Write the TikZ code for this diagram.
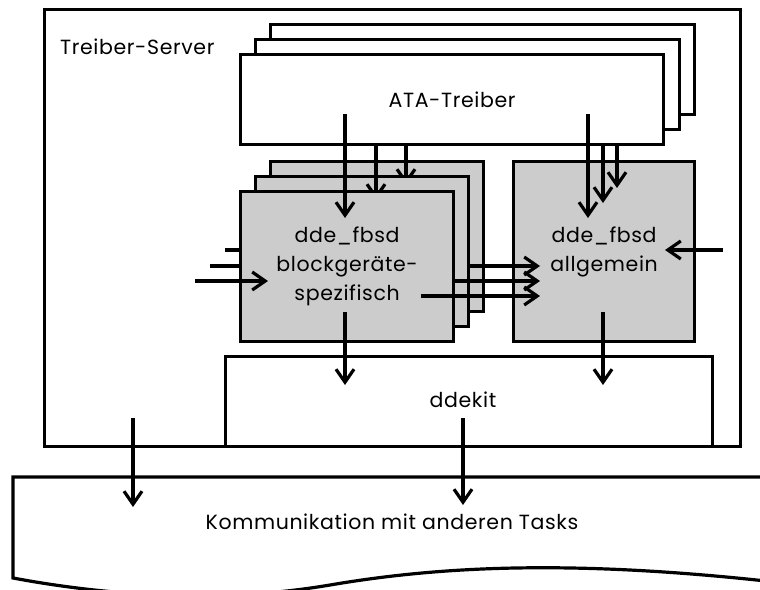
\documentclass[tikz,border=0pt]{standalone}
\usepackage{fontspec}
\setmainfont{Poppins}[LetterSpace=3]
\usetikzlibrary{arrows.meta}
\begin{document}
\begin{tikzpicture}[x=1pt,y=-1pt,
  lw/.style={line width=3.2pt},
  blk/.style={lw, draw, fill=white, inner sep=0pt, anchor=north west, align=center,
              font=\fontsize{20.5}{29}\selectfont},
  gblk/.style={blk, fill=black!20},
  arr/.style={lw, -{Straight Barb[length=13pt,width=18pt,line width=3.2pt]}},
  lbl/.style={inner sep=0pt, font=\fontsize{20.5}{29}\selectfont},
]
\useasboundingbox (0,0) rectangle (760,589);
\clip (0,0) rectangle (760,589);

% outer server frame
\node[blk, minimum width=696pt, minimum height=437pt] (server) at (43,8) {};
\node[lbl, anchor=west] (srvname) at (60,47) {Treiber-Server};

% communication layer (document-like shape, open to the right)
\draw[lw] (775,477) -- (13,477) -- (13,578)
  .. controls (120,598) and (230,602) .. (330,585)
  .. controls (430,568) and (560,558) .. (775,582);
\node[lbl] (comm) at (392,522) {Kommunikation mit anderen Tasks};

% stacked ATA drivers
\node[blk, minimum width=424pt, minimum height=90pt] (ataC) at (269,23) {};
\node[blk, minimum width=424pt, minimum height=90pt] (ataB) at (254,38) {};
\node[blk, minimum width=423pt, minimum height=90pt] (ata) at (239,53) {ATA-Treiber};

% endpoints of the connectors
\coordinate (a1s) at (345,114);  \coordinate (a1t) at (345,218);
\coordinate (a2s) at (376,145);  \coordinate (a2t) at (376,200);
\coordinate (a3s) at (406,145);  \coordinate (a3t) at (406,185);
\coordinate (g1s) at (588,114);  \coordinate (g1t) at (588,218);
\coordinate (g2s) at (603,145);  \coordinate (g2t) at (603,203);
\coordinate (g3s) at (617,145);  \coordinate (g3t) at (617,188);
\coordinate (l1s) at (225,250);  \coordinate (l1t) at (290,250);
\coordinate (l2s) at (210,266);  \coordinate (l2t) at (280,266);
\coordinate (l3s) at (195,281);  \coordinate (l3t) at (268,281);
\coordinate (r1s) at (440,266);  \coordinate (r1t) at (540,266);
\coordinate (r2s) at (430,281);  \coordinate (r2t) at (540,281);
\coordinate (r3s) at (421,296);  \coordinate (r3t) at (540,296);
\coordinate (rgs) at (723,250);  \coordinate (rgt) at (665,250);
\coordinate (d1s) at (345,312);  \coordinate (d1t) at (345,385);
\coordinate (d2s) at (603,312);  \coordinate (d2t) at (603,385);
\coordinate (c1s) at (133,418);  \coordinate (c1t) at (133,507);
\coordinate (c2s) at (463,418);  \coordinate (c2t) at (463,505);

% generic part
\node[gblk, minimum width=181pt, minimum height=180pt] (gen) at (512,160)
  {dde\_fbsd\\allgemein};

% block-device specific instances, back to front, with their connectors
\draw[arr] (l1s) -- (l1t);
\draw[arr] (l2s) -- (l2t);
\node[gblk, minimum width=213pt, minimum height=150pt] (bsC) at (269,160) {};
\draw[arr] (a3s) -- (a3t);
\draw[arr] (r1s) -- (r1t);
\node[gblk, minimum width=213pt, minimum height=150pt] (bsB) at (254,175) {};
\draw[arr] (a2s) -- (a2t);
\draw[arr] (r2s) -- (r2t);
\node[gblk, minimum width=213pt, minimum height=150pt] (bs) at (239,190)
  {dde\_fbsd\\blockgeräte-\\spezifisch};
\draw[arr] (r3s) -- (r3t);
\draw[arr] (l3s) -- (l3t);

% inputs of the generic part
\draw[arr] (g1s) -- (g1t);
\draw[arr] (g2s) -- (g2t);
\draw[arr] (g3s) -- (g3t);
\draw[arr] (rgs) -- (rgt);
\draw[arr] (a1s) -- (a1t);

% ddekit
\node[blk, minimum width=487pt, minimum height=90pt] (ddekit) at (224,355) {};
\node[lbl] (ddekitlbl) at (463,400) {ddekit};
\draw[arr] (d1s) -- (d1t);
\draw[arr] (d2s) -- (d2t);
\draw[arr] (c1s) -- (c1t);
\draw[arr] (c2s) -- (c2t);
\end{tikzpicture}
\end{document}
